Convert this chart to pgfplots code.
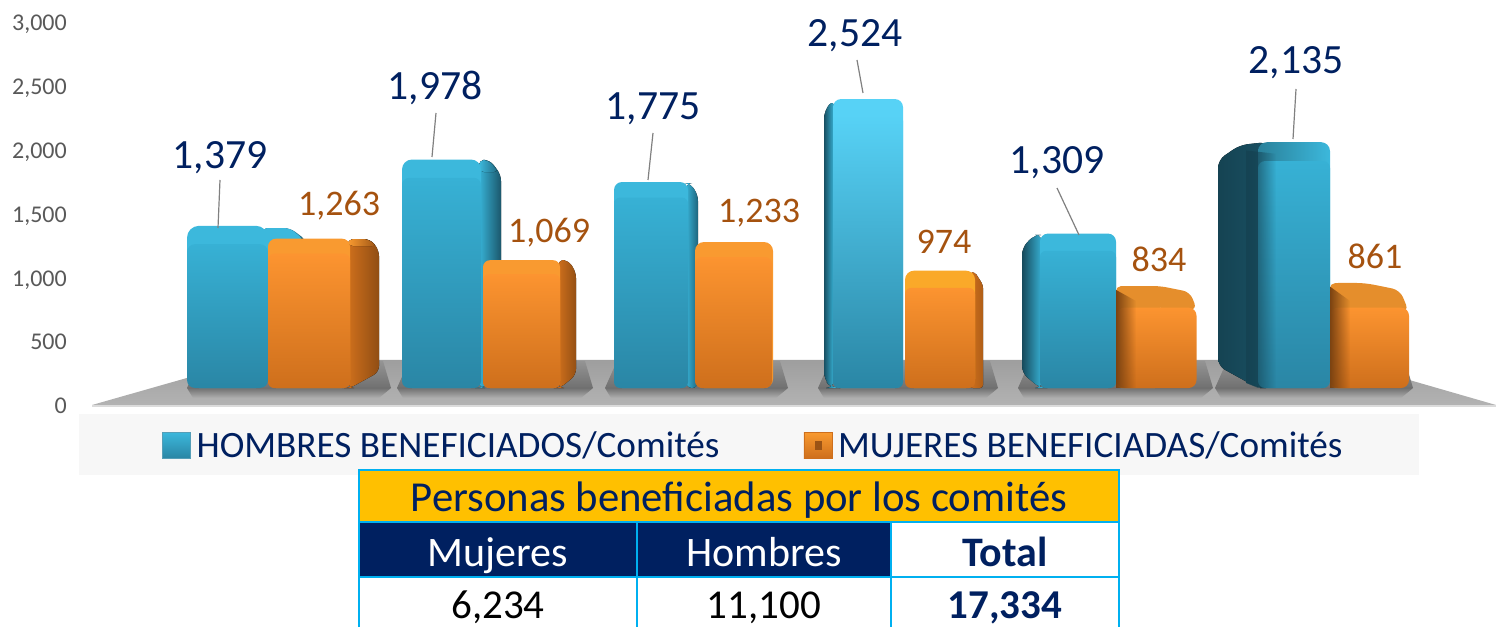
\documentclass[border=0pt]{standalone}
\usepackage{pgfplots}
\pgfplotsset{compat=1.18}
\usetikzlibrary{fadings}
\usepackage{fontspec}
\setmainfont{Carlito}
\definecolor{navy}{HTML}{002060}
\definecolor{lab}{HTML}{A5520F}
\definecolor{tick}{HTML}{595959}
\definecolor{bdr}{HTML}{00B0F0}
\definecolor{gold}{HTML}{FFC000}
\definecolor{bT}{HTML}{37B1D5}
\definecolor{bB}{HTML}{2A86A5}
\definecolor{bL}{HTML}{3CB8DC}
\definecolor{bH}{HTML}{57D2F6}
\definecolor{oT}{HTML}{FC9430}
\definecolor{oB}{HTML}{CE6F1C}
\definecolor{oL}{HTML}{F99A30}
\newcommand\vbar[5]{\addplot[ybar,forget plot,bar shift=0pt,bar width=#2pt,draw=none,rounded corners=#4pt,#5] coordinates {(#1,#3)};}
\newcommand\fbar[6]{\addplot[ybar,forget plot,bar shift=0pt,bar width=#2pt,draw=none,rounded corners=#5pt,#6,y filter/.code={\pgfmathparse{##1-#4}}] coordinates {(#1,#3)};}
\newcommand\vlab[5]{\addplot[forget plot,only marks,mark=none,point meta=explicit,nodes near coords,
  nodes near coords style={anchor=center,yshift=#3pt,text=#5,font=\fontsize{#4}{#4}\selectfont}] coordinates {(#1,#2) [#2]};}
\begin{document}
\begin{tikzpicture}[x=1pt,y=1pt]
\useasboundingbox (0,0) rectangle (1496,627);
\begin{scope}[yshift=627pt,y=-1pt]
  % floor
  \shade[top color=black!38,bottom color=black!30] (92,405) -- (250,360) -- (1340,360) -- (1496,405) -- cycle;
  \fill[black!14] (92,405) -- (1496,405) -- (1496,407) -- (92,407) -- cycle;
  % shadows on the floor
  \foreach \a/\b in {187/383,397/585,605/780,818/990,1018/1205,1215/1405}{
    \shade[top color=black!42,bottom color=black!56] (\a+12,361) -- (\b,361) -- (\b+8,388) -- (\a,388) -- cycle;
    \shade[top color=black!56,bottom color=black!31] (\a,388) -- (\b+8,388) -- (\b-4,398) -- (\a+6,398) -- cycle;
  }
  % legend band
  \fill[black!3] (79,414) rectangle (1419,475);
\end{scope}
% value axis
\begin{axis}[at={(75pt,222pt)},anchor=south west,scale only axis,width=1421pt,height=383pt,
  xmin=0,xmax=1,ymin=0,ymax=3000,xtick=\empty,ytick={0,500,...,3000},
  axis line style={draw=none},major tick length=0pt,tick label style={inner sep=0pt,text=tick,font=\fontsize{24}{26}\selectfont},
  y tick label style={/pgf/number format/1000 sep={,},/pgf/number format/assume math mode=true,xshift=-8pt,yshift=-3.5pt},
  typeset ticklabels with strut=false]
\end{axis}
% bars
\begin{axis}[at={(0pt,239pt)},anchor=south west,scale only axis,width=1496pt,height=348pt,
  xmin=0,xmax=1496,ymin=-85.8,ymax=3057.8,hide axis,clip=false,
  y coord trafo/.code={\pgfmathparse{(#1)+85.8}},
  /pgf/number format/1000 sep={,},/pgf/number format/assume math mode=true,
  legend columns=2,
  legend style={at={(0.1083,-0.1638)},anchor=west,draw=none,fill=none,inner sep=0pt,outer sep=0pt,
    font=\fontsize{37.2}{40}\selectfont,text=navy,
    /tikz/column 1/.style={column sep=6pt},/tikz/column 2/.style={column sep=84pt},/tikz/column 3/.style={column sep=6pt},
    /tikz/nodes={inner sep=0pt,outer sep=0pt}},
  legend cell align=left]
% H1
\fill[bB!80!black,rounded corners=6pt] (axis cs:262,1160.7) -- (axis cs:262,1359.5) -- (axis cs:290,1359.5) -- (axis cs:306,1251.1) -- (axis cs:306,1070.4) -- cycle;
\fill[bL,rounded corners=6pt] (axis cs:262,1196.9) -- (axis cs:262,1359.5) -- (axis cs:290,1359.5) -- (axis cs:304,1251.1) -- (axis cs:296,1196.9) -- cycle;
\vbar{227.5}{81}{1379}{12}{fill=bL}
\fbar{227.5}{81}{1379}{80}{8}{top color=bT,bottom color=bB}
% O1
\fill[left color=oB,right color=oB!70!black,rounded corners=6pt] (axis cs:348,-85.8) -- (axis cs:350,-85.8) -- (axis cs:379,58.7) -- (axis cs:379,1160.7) -- (axis cs:370,1260.1) -- (axis cs:348,1260.1) -- cycle;
\fill[left color=oL,right color=oB!75!black,rounded corners=5pt] (axis cs:348,1196.9) -- (axis cs:348,1260.1) -- (axis cs:368,1260.1) -- (axis cs:377,1196.9) -- cycle;
\vbar{309}{82}{1263}{8}{fill=oL}
\fbar{309}{82}{1263}{50}{6}{top color=oT,bottom color=oB}
% H2
\fill[left color=bT,right color=bB!65!black,rounded corners=6pt] (axis cs:479,-85.8) -- (axis cs:481,-85.8) -- (axis cs:501,4.5) -- (axis cs:501,1838.2) -- (axis cs:490,1973.8) -- (axis cs:479,1973.8) -- cycle;
\fill[left color=bL,right color=bB!75!black,rounded corners=5pt] (axis cs:479,1865.3) -- (axis cs:479,1973.8) -- (axis cs:488,1973.8) -- (axis cs:499,1865.3) -- cycle;
\vbar{441.5}{79}{1978}{10}{fill=bL}
\fbar{441.5}{79}{1978}{80}{7}{top color=bT,bottom color=bB}
% O2
\fill[left color=oB,right color=oB!72!black,rounded corners=6pt] (axis cs:558,-85.8) -- (axis cs:560,-85.8) -- (axis cs:576,31.6) -- (axis cs:576,962) -- (axis cs:568,1070.4) -- (axis cs:558,1070.4) -- cycle;
\vbar{521.5}{77}{1069}{7}{fill=oL}
\fbar{521.5}{77}{1069}{40}{6}{top color=oT,bottom color=oB}
% H3
\fill[left color=bT,right color=bB!75!black,rounded corners=6pt] (axis cs:686,-85.8) -- (axis cs:698,-85.8) -- (axis cs:698,1657.6) -- (axis cs:690,1766) -- (axis cs:686,1766) -- cycle;
\vbar{651}{74}{1775}{8}{fill=bL}
\fbar{651}{74}{1775}{55}{6}{top color=bT,bottom color=bB}
% O3
\vbar{734}{78}{1233}{9}{fill=oL}
\fbar{733.5}{77}{1233}{50}{7}{top color=oT,bottom color=oB}
% H4
\fill[left color=bB!60!black,right color=bT,rounded corners=8pt] (axis cs:834,-85.8) -- (axis cs:832,-85.8) -- (axis cs:824,-13.6) -- (axis cs:824,2420) -- (axis cs:834,2524.8) -- cycle;
\vbar{868}{70}{2524}{8}{fill=bH}
\fbar{868}{70}{2524}{55}{6}{top color=bH,bottom color=bB}
% O4
\fill[left color=oB,right color=oB!85!black,rounded corners=3pt] (axis cs:970,-85.8) -- (axis cs:983,-85.8) -- (axis cs:983,844.6) -- (axis cs:975,960) -- (axis cs:970,960) -- cycle;
\vbar{940}{70}{974}{9}{fill=oL!85!yellow}
\fbar{940}{70}{974}{70}{6}{top color=oT,bottom color=oB}
% H5
\fill[left color=bB!55!black,right color=bT,rounded corners=7pt] (axis cs:1042,-85.8) -- (axis cs:1040,-85.8) -- (axis cs:1022,49.6) -- (axis cs:1022,1179.1) -- (axis cs:1034,1296.3) -- (axis cs:1042,1296.3) -- cycle;
\vbar{1078}{76}{1309}{8}{fill=bL}
\fbar{1078}{76}{1309}{70}{6}{top color=bT,bottom color=bB}
% O5
\fill[oL!92!black,rounded corners=7pt] (axis cs:1116,663.9) -- (axis cs:1116,835.5) -- (axis cs:1160,835.5) -- (axis cs:1190,781.3) -- (axis cs:1197,618.7) -- cycle;
\vbar{1138}{44}{834}{5}{fill=oL!92!black}
\fbar{1156.5}{80}{834}{108}{8}{top color=oT,bottom color=oB}
\fill[oB!60!black,path fading=east] (axis cs:1116,-85.8) -- (axis cs:1136,-85.8) -- (axis cs:1136,700) -- (axis cs:1116,800) -- cycle;
% H6
\fill[left color=bB!50!black,right color=bB!60!black,rounded corners=8pt] (axis cs:1268,-85.8) -- (axis cs:1258,-85.8) -- (axis cs:1218,112.9) -- (axis cs:1218,1973.8) -- (axis cs:1240,2109.3) -- (axis cs:1268,2136.4) -- cycle;
\vbar{1294}{72}{2135}{9}{left color=bL!70!black,right color=bL}
\fbar{1294}{72}{2135}{85}{7}{top color=bT,bottom color=bB}
\fill[bB!50!black,path fading=east] (axis cs:1246,-40) -- (axis cs:1258,-85.8) -- (axis cs:1276,-85.8) -- (axis cs:1276,2030) -- (axis cs:1246,2060) -- cycle;
% O6
\fill[oL!92!black,rounded corners=8pt] (axis cs:1330,663.9) -- (axis cs:1330,862.7) -- (axis cs:1365,862.7) -- (axis cs:1400,799.4) -- (axis cs:1409,600.7) -- cycle;
\vbar{1347.5}{35}{861}{5}{fill=oL!92!black}
\fbar{1369.5}{79}{861}{135}{8}{top color=oT,bottom color=oB}
\fill[oB!60!black,path fading=east] (axis cs:1330,-85.8) -- (axis cs:1350,-85.8) -- (axis cs:1350,700) -- (axis cs:1330,830) -- cycle;
% labels
\vlab{220}{1379}{68}{41.6}{navy}
\vlab{339}{1263}{33}{36}{lab}
\vlab{435}{1978}{71.5}{41.6}{navy}
\vlab{549}{1069}{28}{36}{lab}
\vlab{653}{1775}{73}{41.6}{navy}
\vlab{759}{1233}{29}{36}{lab}
\vlab{855}{2524}{63.5}{41.6}{navy}
\vlab{944}{974}{29}{36}{lab}
\vlab{1057}{1309}{70.6}{41.6}{navy}
\vlab{1159}{834}{27}{36}{lab}
\vlab{1296}{2135}{79}{41.6}{navy}
\vlab{1375}{861}{27}{36}{lab}
\addlegendimage{legend image code/.code={\shade[top color=bL,bottom color=bB,draw=bB!80!white,line width=0.6pt] (0pt,-13pt) rectangle (28pt,13pt);}}
\addlegendentry{HOMBRES BENEFICIADOS/Comités}
\addlegendimage{legend image code/.code={\shade[top color=oL,bottom color=oB,draw=oB,line width=0.6pt] (0pt,-13pt) rectangle (28pt,13pt);\fill[oB!75!black] (11pt,-4pt) rectangle (17pt,4pt);}}
\addlegendentry{MUJERES BENEFICIADAS/Comités}
\end{axis}
\begin{scope}[yshift=627pt,y=-1pt]
  % leader lines
  \foreach \a/\b/\c/\d in {218/228/220/180,432/157/436/113,648/180/653/133,863/93/857/60,1079/235/1057/188,1293/139/1296/89}
    \draw[black!50,line width=1.2pt] (\a,\b) -- (\c,\d);
  % table
  \fill[gold] (359,470) rectangle (1119,522);
  \fill[navy] (359,522) rectangle (891,577);
  \draw[bdr,line width=2.5pt] (359,627) -- (359,470) -- (1119,470) -- (1119,627);
  \draw[bdr,line width=2.5pt] (359,522) -- (1119,522) (359,577) -- (1119,577);
  \draw[bdr,line width=2.5pt] (637,522) -- (637,627) (891,522) -- (891,627);
  \node[anchor=base,text=navy,font=\fontsize{42.7}{46}\selectfont] at (739,511) {Personas beneficiadas por los comités};
  \node[anchor=base,text=white,font=\fontsize{42}{46}\selectfont] at (498,566) {Mujeres};
  \node[anchor=base,text=white,font=\fontsize{42}{46}\selectfont] at (764,566) {Hombres};
  \node[anchor=base,text=navy,font=\fontsize{42}{46}\selectfont\bfseries] at (1005,566) {Total};
  \node[anchor=base,inner sep=0pt,text=black,font=\fontsize{41}{44}\selectfont] at (498,618) {6,234};
  \node[anchor=base,inner sep=0pt,text=black,font=\fontsize{41}{44}\selectfont] at (764,618) {11,100};
  \node[anchor=base,inner sep=0pt,text=navy,font=\fontsize{41}{44}\selectfont\bfseries] at (1005,618) {17,334};
\end{scope}
\end{tikzpicture}
\end{document}
